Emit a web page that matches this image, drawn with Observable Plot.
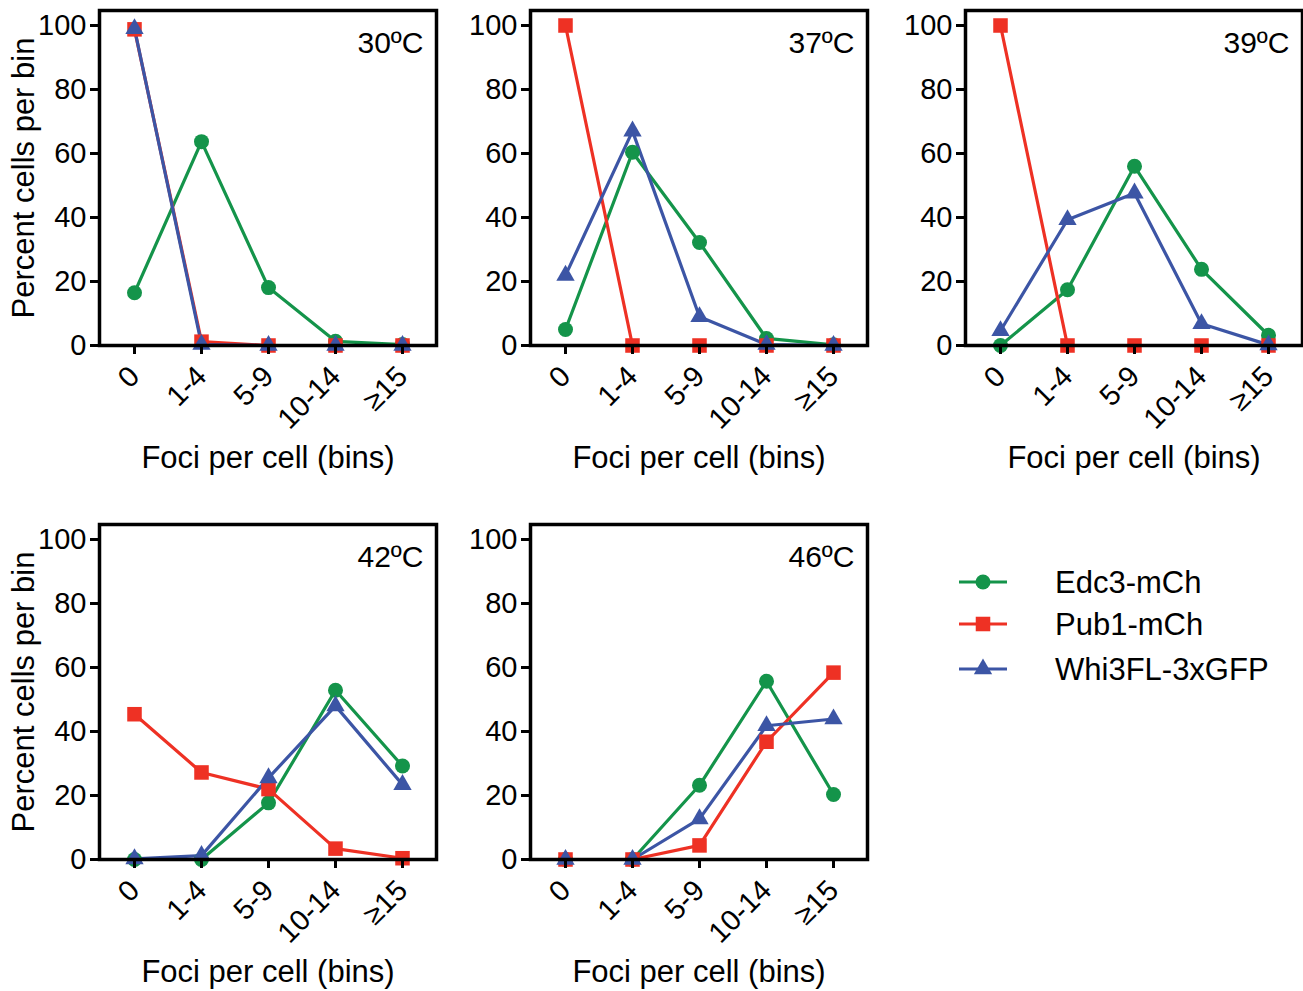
<!DOCTYPE html>
<html><head><meta charset="utf-8">
<script src="https://cdn.jsdelivr.net/npm/d3@7"></script>
<script src="https://cdn.jsdelivr.net/npm/@observablehq/plot@0.6"></script>
<style>
body{margin:0;background:#fff;}
#root{position:relative;width:1303px;height:991px;overflow:hidden;font-family:"Liberation Sans",Arial,sans-serif;}
#root > svg{position:absolute;}
</style></head><body><div id="root"></div>
<script>
// ---- data ----
const bins = ["0", "1-4", "5-9", "10-14", "≥15"];
const temps = ["30ºC", "37ºC", "39ºC", "42ºC", "46ºC"];
const seriesNames = ["Edc3-mCh", "Pub1-mCh", "Whi3FL-3xGFP"];
const yTicks = [0, 20, 40, 60, 80, 100];
// one row per temperature (30, 37, 39, 42, 46 ºC), one value per bin
const edc3 = [
  [16.5, 63.7, 18.1, 1.3, 0.3],
  [5.0, 60.4, 32.2, 2.2, 0.2],
  [0.0, 17.4, 56.0, 23.8, 3.2],
  [0.0, 0.0, 17.7, 52.9, 29.2],
  [0.0, 0.0, 23.2, 55.7, 20.3]
];
const pub1 = [
  [98.8, 1.2, 0.0, 0.0, 0.0],
  [100.0, 0.0, 0.0, 0.0, 0.0],
  [100.0, 0.0, 0.0, 0.0, 0.0],
  [45.4, 27.2, 22.0, 3.4, 0.4],
  [0.0, 0.0, 4.4, 36.8, 58.4]
];
const whi3 = [
  [99.0, 0.3, 0.0, 0.0, 0.0],
  [21.9, 67.0, 9.0, 0.3, 0.0],
  [4.6, 39.3, 47.6, 6.8, 0.2],
  [0.2, 1.2, 25.5, 48.0, 23.4],
  [0.0, 0.0, 12.7, 41.8, 43.9]
];

// ---- styling ----
const seriesColors = ["#14944a", "#ee3124", "#3c55a5"];
const seriesSymbols = ["circle", "square", "triangle"];
const seriesR = [7.5, 8.2, 6.8];
const FONT = '"Liberation Sans", Arial, sans-serif';
const colLeft = [99, 530, 965], rowTop = [10, 524];
const ML = 99, MT = 10, FW = 337, FH = 335, MR = 6, MB = 135;

const root = document.getElementById("root");

function panel(i) {
  const col = i % 3, row = Math.floor(i / 3);
  const series = [edc3, pub1, whi3].map((s, k) => bins.map((b, j) => ({bin: b, value: s[i][j], k})));
  const marks = [];
  series.forEach((r, k) => marks.push(Plot.line(r, {x: "bin", y: "value", stroke: seriesColors[k], strokeWidth: 3.2})));
  series.forEach((r, k) => marks.push(Plot.dot(r, {x: "bin", y: "value", fill: seriesColors[k], stroke: "none", symbol: seriesSymbols[k], r: seriesR[k]})));
  marks.push(Plot.axisY({ticks: yTicks, tickSize: 9, tickPadding: 4, fontSize: 29, strokeWidth: 3, label: null, tickFormat: d => String(d)}));
  marks.push(Plot.axisX({ticks: bins, tickSize: 9, tickRotate: -45, tickPadding: 17, fontSize: 29, strokeWidth: 3, label: null}));
  marks.push(Plot.frame({stroke: "black", strokeWidth: 3.5}));
  marks.push(Plot.text([temps[i]], {text: d => d, frameAnchor: "top-right", dx: -13, dy: 42, textAnchor: "end", lineAnchor: "bottom", fontSize: 30, fill: "black"}));
  marks.push(Plot.text(["Foci per cell (bins)"], {text: d => d, frameAnchor: "bottom", dy: 122, textAnchor: "middle", lineAnchor: "bottom", fontSize: 31, fill: "black"}));
  if (col === 0) {
    marks.push(Plot.text(["Percent cells per bin"], {text: d => d, frameAnchor: "left", dx: -66, rotate: -90, textAnchor: "middle", lineAnchor: "bottom", fontSize: 31, fill: "black"}));
  }
  const svg = Plot.plot({
    width: ML + FW + MR,
    height: MT + FH + MB,
    marginLeft: ML, marginRight: MR, marginTop: MT, marginBottom: MB,
    x: {type: "point", domain: bins, padding: 0.5},
    y: {domain: [0, FH / 3.2]},
    style: {fontFamily: FONT, background: "transparent", overflow: "visible", color: "black"},
    marks
  });
  svg.style.position = "absolute";
  svg.style.left = (colLeft[col] - ML) + "px";
  svg.style.top = (rowTop[row] - MT) + "px";
  root.appendChild(svg);
}
temps.forEach((t, i) => panel(i));

// ---- legend ----
const lg = d3.select(root).append("svg")
  .attr("width", 360).attr("height", 150)
  .style("position", "absolute").style("left", "940px").style("top", "550px")
  .style("font-family", FONT);
const legendY = [32, 74, 119];
seriesNames.forEach((name, k) => {
  const g = lg.append("g").attr("transform", `translate(0,${legendY[k]})`);
  g.append("line").attr("x1", 19).attr("x2", 67).attr("stroke", seriesColors[k]).attr("stroke-width", 3.2);
  const sym = {circle: d3.symbolCircle, square: d3.symbolSquare, triangle: d3.symbolTriangle}[seriesSymbols[k]];
  g.append("path").attr("transform", "translate(43,0)")
    .attr("d", d3.symbol(sym, Math.PI * seriesR[k] * seriesR[k])()).attr("fill", seriesColors[k]);
  g.append("text").attr("x", 115).attr("y", 0).attr("dy", "0.35em").attr("font-size", 31).attr("fill", "black").text(name);
});
</script></body></html>
